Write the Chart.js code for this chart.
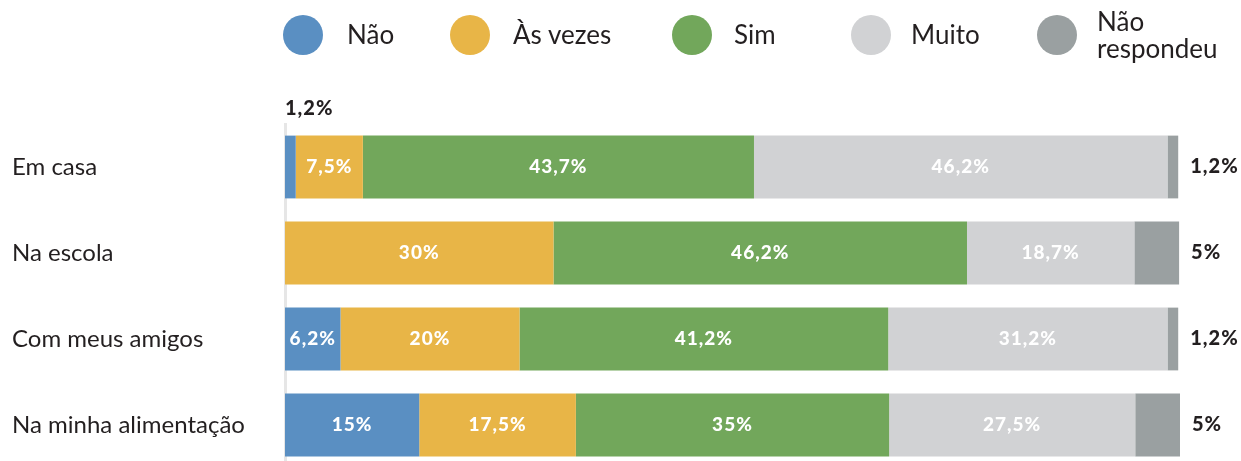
<!DOCTYPE html>
<html>
<head>
<meta charset="utf-8">
<script src="https://cdn.jsdelivr.net/npm/chart.js@4"></script>
<style>
  html, body { margin: 0; padding: 0; background: #fff; overflow: hidden; }
  #wrap { position: relative; width: 1241px; height: 470px; }
  .leg { position: absolute; font-family: Lato, sans-serif; font-size: 26px; color: #231f20; line-height: 27px; }
  .dot { position: absolute; width: 40px; height: 40px; border-radius: 50%; }
</style>
</head>
<body>
<div id="wrap">
  <canvas id="chart"></canvas>
  <div id="legend"></div>
</div>
<script>
const categories = ["Em casa", "Na escola", "Com meus amigos", "Na minha alimentação"];
const seriesNames = ["Não", "Às vezes", "Sim", "Muito", "Não respondeu"];
const nao = [1.2, 0, 6.2, 15];
const asVezes = [7.5, 30, 20, 17.5];
const sim = [43.7, 46.2, 41.2, 35];
const muito = [46.2, 18.7, 31.2, 27.5];
const naoRespondeu = [1.2, 5, 1.2, 5];

const colors = ["#5a8fc2", "#e8b547", "#72a75b", "#d1d2d4", "#9aa0a1"];
const allSeries = [nao, asVezes, sim, muito, naoRespondeu];

// legend (html)
const legendPos = [[303, 347], [470, 513], [692, 734], [871, 911], [1057, 1097]];
const legend = document.getElementById("legend");
seriesNames.forEach((name, i) => {
  const d = document.createElement("div");
  d.className = "dot";
  d.style.background = colors[i];
  d.style.left = (legendPos[i][0] - 20) + "px";
  d.style.top = "15px";
  legend.appendChild(d);
  const t = document.createElement("div");
  t.className = "leg";
  t.style.left = legendPos[i][1] + "px";
  if (name === "Não respondeu") {
    t.style.top = "8px";
    t.innerHTML = "Não<br>respondeu";
  } else {
    t.style.top = "21px";
    t.textContent = name;
  }
  legend.appendChild(t);
});

const fmt = v => String(v).replace(".", ",") + "%";

const valueLabels = {
  id: "valueLabels",
  afterDatasetsDraw(chart) {
    const ctx = chart.ctx;
    ctx.save();
    chart.data.datasets.forEach((ds, di) => {
      const meta = chart.getDatasetMeta(di);
      meta.data.forEach((bar, i) => {
        const v = ds.data[i];
        if (!v) return;
        const top = bar.y - bar.height / 2;
        if (di === allSeries.length - 1) {
          ctx.font = "900 20px Lato";
          ctx.letterSpacing = "1px";
          ctx.fillStyle = "#231f20";
          ctx.textAlign = "left";
          ctx.textBaseline = "middle";
          ctx.fillText(fmt(v), bar.x + 12, bar.y);
        } else if (v < 2) {
          ctx.font = "900 20px Lato";
          ctx.letterSpacing = "1px";
          ctx.fillStyle = "#231f20";
          ctx.textAlign = "left";
          ctx.textBaseline = "alphabetic";
          ctx.fillText(fmt(v), bar.base, top - 21);
        } else {
          ctx.font = "900 19px Lato";
          ctx.letterSpacing = "1px";
          ctx.fillStyle = "#fff";
          ctx.textAlign = "center";
          ctx.textBaseline = "middle";
          ctx.fillText(fmt(v), (bar.x + bar.base) / 2, bar.y);
        }
      });
    });
    ctx.restore();
  }
};

new Chart(document.getElementById("chart"), {
  type: "bar",
  data: {
    labels: categories,
    datasets: seriesNames.map((name, i) => ({
      label: name,
      data: allSeries[i],
      backgroundColor: colors[i],
      borderWidth: 0,
      categoryPercentage: 1,
      barPercentage: 0.73
    }))
  },
  options: {
    indexAxis: "y",
    responsive: true,
    maintainAspectRatio: false,
    animation: false,
    layout: { padding: { left: 12, right: 61, top: 124, bottom: 2 } },
    plugins: { legend: { display: false }, tooltip: { enabled: false } },
    scales: {
      x: { stacked: true, min: 0, max: 100, display: false },
      y: {
        stacked: true,
        grid: { display: false },
        border: { display: true, color: "#e6e6e6", width: 3 },
        ticks: { crossAlign: "far", color: "#231f20", font: { family: "Lato", size: 24 } },
        afterFit(scale) {
          scale.width = 273;
          scale.paddingTop = 0;
          scale.paddingBottom = 0;
        }
      }
    }
  },
  plugins: [valueLabels]
});
</script>
</body>
</html>
